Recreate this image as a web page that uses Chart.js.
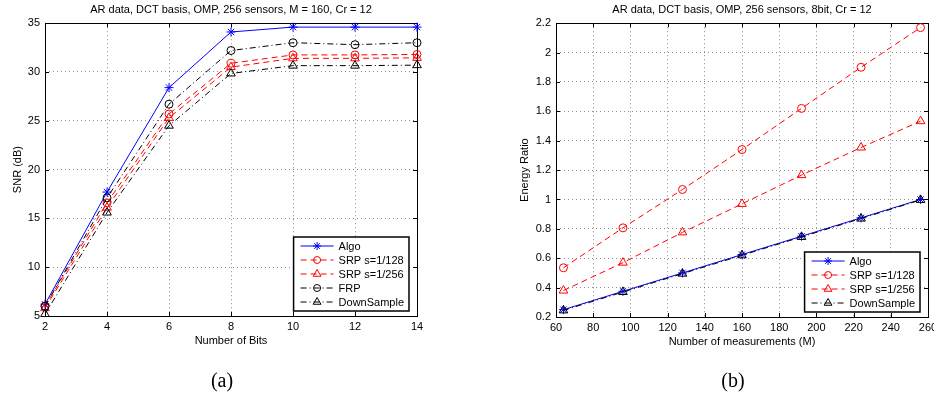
<!DOCTYPE html>
<html>
<head>
<meta charset="utf-8">
<script src="https://cdn.jsdelivr.net/npm/chart.js@4.4.1/dist/chart.umd.min.js"></script>
<style>
  body { margin: 0; background: #fff; }
  #wrap { position: relative; width: 934px; height: 400px; }
  canvas { position: absolute; top: 0; }
  .cap { position: absolute; top: 369px; font: 20px "Liberation Serif", "Times New Roman", serif; color: #000; transform: translateX(-50%); }
</style>
</head>
<body>
<div id="wrap">
  <canvas id="snrChart" width="467" height="400" style="left:0"></canvas>
  <canvas id="ratioChart" width="467" height="400" style="left:467px"></canvas>
  <div class="cap" style="left:222px">(a)</div>
  <div class="cap" style="left:733px">(b)</div>
</div>
<script>
// (a) SNR vs number of bits
const bits = [2, 4, 6, 8, 10, 12, 14];
const snrAlgo = [6.2, 17.7, 28.4, 34.1, 34.6, 34.6, 34.6];
const snrSrp128 = [6.0, 16.6, 25.7, 30.9, 31.75, 31.75, 31.8];
const snrSrp256 = [5.8, 16.1, 25.3, 30.5, 31.4, 31.4, 31.45];
const snrFrp = [6.0, 17.1, 26.7, 32.2, 33.0, 32.8, 33.0];
const snrDown = [5.2, 15.6, 24.5, 29.85, 30.65, 30.65, 30.7];

// (b) energy ratio vs number of measurements
const measurements = [64, 96, 128, 160, 192, 224, 256];
const ratioAlgo = [0.25, 0.375, 0.5, 0.625, 0.75, 0.875, 1.0];
const ratioSrp128 = [0.535, 0.807, 1.068, 1.34, 1.62, 1.9, 2.17];
const ratioSrp256 = [0.38, 0.57, 0.776, 0.97, 1.166, 1.354, 1.533];
const ratioDown = [0.245, 0.37, 0.495, 0.62, 0.745, 0.87, 0.997];

const FONT = '"Liberation Sans", Arial, Helvetica, sans-serif';
Chart.defaults.font.family = FONT;
Chart.defaults.font.size = 11;
Chart.defaults.color = "#000";

const DASH = [6, 4];
const DASHDOT = [6, 3, 1, 3];

function pts(xs, ys) {
  return xs.map((x, i) => ({ x: x, y: ys[i] }));
}

function series(label, xs, ys, color, dash, marker, radius, order) {
  return {
    label: label,
    data: pts(xs, ys),
    borderColor: color,
    backgroundColor: "rgba(0,0,0,0)",
    borderWidth: 1,
    borderDash: dash,
    pointStyle: marker,
    pointRadius: radius,
    pointBorderColor: color,
    pointBackgroundColor: "rgba(0,0,0,0)",
    pointBorderWidth: 1,
    tension: 0,
    clip: false,
    order: order,
  };
}

// legend drawn inside the axes, bottom right, MATLAB style
const insideLegend = {
  id: "insideLegend",
  afterDraw(chart) {
    const { ctx, chartArea } = chart;
    const items = chart.data.datasets;
    ctx.save();
    ctx.font = "11px " + FONT;
    const textW = Math.max(...items.map((d) => ctx.measureText(d.label).width));
    const rowH = 14;
    const w = 45 + textW + 5;
    const h = items.length * rowH + 4;
    const x = chartArea.right - 8 - w;
    const y = chartArea.bottom - 5 - h;
    ctx.fillStyle = "#fff";
    ctx.fillRect(x, y, w, h);
    ctx.strokeStyle = "#000";
    ctx.lineWidth = 1.5;
    ctx.strokeRect(x, y, w, h);
    items.forEach((d, i) => {
      const cy = y + 2 + rowH * i + rowH / 2;
      ctx.strokeStyle = d.borderColor;
      ctx.lineWidth = 1;
      ctx.setLineDash(d.borderDash || []);
      ctx.beginPath();
      ctx.moveTo(x + 7, cy);
      ctx.lineTo(x + 40, cy);
      ctx.stroke();
      ctx.setLineDash([]);
      ctx.fillStyle = "rgba(0,0,0,0)";
      Chart.helpers.drawPoint(ctx, { pointStyle: d.pointStyle, radius: d.pointRadius - 0.5, borderWidth: 1, rotation: 0 }, x + 23.5, cy);
      ctx.fillStyle = "#000";
      ctx.textBaseline = "middle";
      ctx.textAlign = "left";
      ctx.fillText(d.label, x + 45, cy + 0.5);
    });
    ctx.restore();
  },
};

// full box round the axes with inward tick marks
const axesBox = {
  id: "axesBox",
  beforeDatasetsDraw(chart) {
    const { ctx, chartArea: a, scales } = chart;
    ctx.save();
    ctx.strokeStyle = "#000";
    ctx.lineWidth = 1;
    ctx.beginPath();
    scales.x.ticks.forEach((t) => {
      const px = Math.round(scales.x.getPixelForValue(t.value)) + 0.5;
      ctx.moveTo(px, a.bottom); ctx.lineTo(px, a.bottom - 4);
      ctx.moveTo(px, a.top); ctx.lineTo(px, a.top + 4);
    });
    scales.y.ticks.forEach((t) => {
      const py = Math.round(scales.y.getPixelForValue(t.value)) + 0.5;
      ctx.moveTo(a.left, py); ctx.lineTo(a.left + 4, py);
      ctx.moveTo(a.right, py); ctx.lineTo(a.right - 4, py);
    });
    ctx.stroke();
    ctx.strokeRect(Math.round(a.left) + 0.5, Math.round(a.top) + 0.5, Math.round(a.right - a.left), Math.round(a.bottom - a.top));
    ctx.restore();
  },
};

function makeOptions(title, xTitle, yTitle, xMin, xMax, xStep, yMin, yMax, yStep, yWidth, pad) {
  return {
    responsive: false,
    animation: false,
    layout: { padding: pad },
    plugins: {
      legend: { display: false },
      tooltip: { enabled: false },
      title: {
        display: true,
        text: title,
        fullSize: false,
        font: { size: 11, weight: "normal" },
        padding: { top: 3, bottom: 7 },
      },
    },
    scales: {
      x: {
        type: "linear",
        min: xMin,
        max: xMax,
        ticks: { stepSize: xStep, padding: 4, maxRotation: 0 },
        grid: { color: "rgba(0,0,0,0.45)", drawTicks: false, lineWidth: 1 },
        border: { display: false, dash: [1, 3] },
        title: { display: true, text: xTitle, padding: 0, font: { size: 11 } },
        afterFit(s) { s.height = 32; s.paddingLeft = 0; s.paddingRight = 0; },
      },
      y: {
        type: "linear",
        min: yMin,
        max: yMax,
        ticks: {
          stepSize: yStep,
          padding: 5,
          callback: (v) => String(parseFloat(v.toFixed(1))),
        },
        grid: { color: "rgba(0,0,0,0.45)", drawTicks: false, lineWidth: 1 },
        border: { display: false, dash: [1, 3] },
        title: { display: true, text: yTitle, padding: 0, font: { size: 11 } },
        afterFit(s) { s.width = yWidth; s.paddingTop = 0; s.paddingBottom = 0; },
      },
    },
  };
}

new Chart(document.getElementById("snrChart"), {
  type: "line",
  data: {
    datasets: [
      series("Algo", bits, snrAlgo, "#0000ff", [], "star", 4.5, 5),
      series("SRP s=1/128", bits, snrSrp128, "#ff0000", DASH, "circle", 4, 4),
      series("SRP s=1/256", bits, snrSrp256, "#ff0000", DASH, "triangle", 5, 3),
      series("FRP", bits, snrFrp, "#000000", DASHDOT, "circle", 4, 2),
      series("DownSample", bits, snrDown, "#000000", DASHDOT, "triangle", 5, 1),
    ],
  },
  options: makeOptions(
    "AR data, DCT basis, OMP, 256 sensors, M = 160, Cr = 12",
    "Number of Bits", "SNR (dB)",
    2, 14, 2, 5, 35, 5, 34,
    { left: 11, right: 50, top: 0, bottom: 52 }
  ),
  plugins: [axesBox, insideLegend],
});

new Chart(document.getElementById("ratioChart"), {
  type: "line",
  data: {
    datasets: [
      series("Algo", measurements, ratioAlgo, "#0000ff", [], "star", 4.5, 4),
      series("SRP s=1/128", measurements, ratioSrp128, "#ff0000", DASH, "circle", 4, 3),
      series("SRP s=1/256", measurements, ratioSrp256, "#ff0000", DASH, "triangle", 5, 2),
      series("DownSample", measurements, ratioDown, "#000000", DASHDOT, "triangle", 5, 1),
    ],
  },
  options: makeOptions(
    "AR data, DCT basis, OMP, 256 sensors, 8bit, Cr = 12",
    "Number of measurements (M)", "Energy Ratio",
    60, 260, 20, 0.2, 2.2, 0.2, 38,
    { left: 51, right: 5, top: 0, bottom: 51 }
  ),
  plugins: [axesBox, insideLegend],
});
</script>
</body>
</html>
